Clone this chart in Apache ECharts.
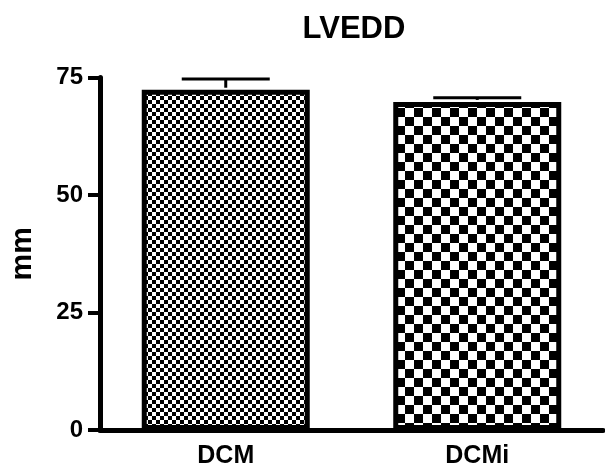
<!DOCTYPE html>
<html>
<head>
<meta charset="utf-8">
<style>
  html, body { margin: 0; padding: 0; background: #fff; }
  #chart { width: 605px; height: 471px; }
</style>
<script src="https://cdn.jsdelivr.net/npm/echarts@6/dist/echarts.min.js"></script>
</head>
<body>
<div id="chart"></div>
<script>
// Group names, mean values (mm) and standard errors
const categories = ['DCM', 'DCMi'];
const means = [72.4, 69.8];
const errors = [2.3, 0.9];
const yTicks = [0, 25, 50, 75];

// Checkerboard fill used for each bar (square size in px)
function checker(size) {
  const c = document.createElement('canvas');
  c.width = size * 2;
  c.height = size * 2;
  const g = c.getContext('2d');
  g.fillStyle = '#ffffff';
  g.fillRect(0, 0, c.width, c.height);
  g.fillStyle = '#000000';
  g.fillRect(0, 0, size, size);
  g.fillRect(size, size, size, size);
  return { image: c, repeat: 'repeat' };
}
const fills = [checker(4), checker(9)];

const chart = echarts.init(document.getElementById('chart'), null, { renderer: 'canvas' });
const font = '"Liberation Sans", Arial, sans-serif';

chart.setOption({
  animation: false,
  title: {
    text: 'LVEDD',
    left: 349,
    top: 9,
    textAlign: 'center',
    textStyle: { fontFamily: font, fontWeight: 'bold', fontSize: 31, color: '#000' }
  },
  grid: { left: 97, right: 2, top: 77.5, bottom: 41, containLabel: false },
  xAxis: {
    type: 'category',
    data: categories,
    axisLine: { lineStyle: { color: '#000', width: 5 } },
    axisTick: { alignWithLabel: true, length: 9, lineStyle: { color: '#000', width: 3 } },
    axisLabel: { margin: 14, fontFamily: font, fontWeight: 'bold', fontSize: 25, color: '#000' },
    splitLine: { show: false }
  },
  yAxis: {
    type: 'value',
    min: yTicks[0],
    max: yTicks[yTicks.length - 1],
    interval: 25,
    name: 'mm',
    nameLocation: 'middle',
    nameGap: 62,
    nameRotate: 90,
    nameTextStyle: { fontFamily: font, fontWeight: 'bold', fontSize: 30, color: '#000' },
    axisLine: { show: true, lineStyle: { color: '#000', width: 5 } },
    axisTick: { show: true, length: 12, lineStyle: { color: '#000', width: 4 } },
    axisLabel: { margin: 17, fontFamily: font, fontWeight: 'bold', fontSize: 24, color: '#000' },
    splitLine: { show: false }
  },
  series: [
    {
      type: 'bar',
      barWidth: 168,
      data: means.map((v, i) => ({
        value: v,
        itemStyle: { color: fills[i], borderColor: '#000', borderWidth: 5 }
      })),
      z: 2
    },
    {
      // upper error whiskers with caps
      type: 'custom',
      z: 3,
      data: means.map((v, i) => [i, v, v + errors[i]]),
      renderItem: function (params, api) {
        const base = api.coord([api.value(0), api.value(1)]);
        const top = api.coord([api.value(0), api.value(2)]);
        const half = 44;
        const style = { stroke: '#000', lineWidth: 3 };
        return {
          type: 'group',
          children: [
            { type: 'line', shape: { x1: top[0], y1: base[1] - 2, x2: top[0], y2: top[1] }, style: style },
            { type: 'line', shape: { x1: top[0] - half, y1: top[1], x2: top[0] + half, y2: top[1] }, style: style }
          ]
        };
      }
    }
  ]
});
</script>
</body>
</html>
